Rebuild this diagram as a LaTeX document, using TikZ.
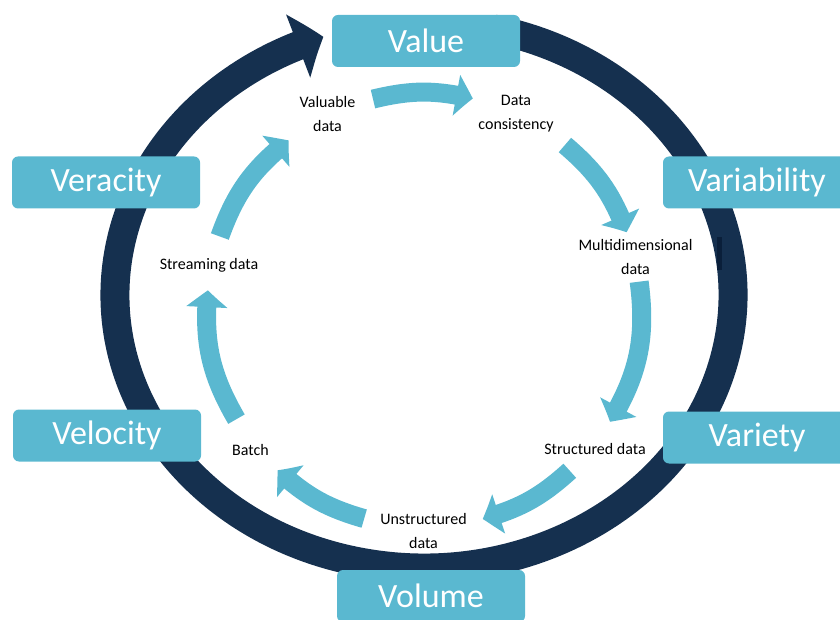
\documentclass[tikz,border=0pt]{standalone}
\usepackage{fontspec}
\setmainfont{Carlito}
\usetikzlibrary{arrows.meta,bending}
\definecolor{navy}{HTML}{15304F}
\definecolor{deepnavy}{HTML}{0A1F3A}
\definecolor{sky}{HTML}{5AB8D0}
\begin{document}
\begin{tikzpicture}[x=1pt,y=1pt,
  vbox/.style={fill=sky, rounded corners=6pt, minimum width=188pt,
    minimum height=52pt, inner sep=0pt, text=white,
    font=\fontsize{34}{40}\selectfont},
  lbl/.style={align=center, font=\fontsize{16}{24}\selectfont,
    text=black, inner sep=0pt},
  flow/.style={draw=sky, line width=19pt,
    -{Triangle[length=17pt,width=40pt,bend]}},
  ring/.style={draw=navy, line width=29pt,
    -{Triangle[length=27pt,width=66pt,bend]}}]
\clip (0,0) rectangle (840,619);
\useasboundingbox (0,0) rectangle (840,619);

% outer cycle
\draw[ring] (424,324) ++(77:309 and 273)
  arc[start angle=77, end angle=-251, x radius=309, y radius=273];
\fill[deepnavy] (717,349) rectangle (722,382);

% the six V boxes
\node[vbox] (value)       at (426,578)   {Value};
\node[vbox] (variability) at (757,436.5) {Variability};
\node[vbox] (veracity)    at (106,436.5) {Veracity};
\node[vbox] (velocity)    at (107,183.5) {Velocity};
\node[vbox] (variety)     at (757,181.5) {Variety};
\node[vbox] (volume)      at (431,23)    {Volume};

% inner data cycle labels
\node[lbl] (valuable) at (327.5,505) {Valuable\\data};
\node[lbl] (consist)  at (516,505)   {Data\\consistency};
\node[lbl] (multi)    at (635.5,362) {Multidimensional\\data};
\node[lbl] (struct)   at (595,170)   {Structured data};
\node[lbl] (unstruct) at (423.5,88)  {Unstructured\\data};
\node[lbl] (batch)    at (250.5,169) {Batch};
\node[lbl] (stream)   at (209,354)   {Streaming data};

% arrow end points on the inner circle
\begin{scope}[shift={(424,309)}]
  \coordinate (a1s) at (103.6:217); \coordinate (a1e) at (77:217);
  \coordinate (a2s) at (49.5:217);  \coordinate (a2e) at (21:217);
  \coordinate (a3s) at (7.5:217);   \coordinate (a3e) at (-31:217);
  \coordinate (a4s) at (-47.8:217); \coordinate (a4e) at (-74.3:217);
  \coordinate (a5s) at (-106:217);  \coordinate (a5e) at (-132.4:217);
  \coordinate (a6s) at (-149.8:217);\coordinate (a6e) at (-185.2:217);
  \coordinate (a7s) at (-199.8:217);\coordinate (a7e) at (-231.4:217);
\end{scope}

\draw[flow] (a1s) to[bend left=13.3]  (a1e);
\draw[flow] (a2s) to[bend left=14.25] (a2e);
\draw[flow] (a3s) to[bend left=19.25] (a3e);
\draw[flow] (a4s) to[bend left=13.25] (a4e);
\draw[flow] (a5s) to[bend left=13.2]  (a5e);
\draw[flow] (a6s) to[bend left=17.7]  (a6e);
\draw[flow] (a7s) to[bend left=15.8]  (a7e);
\end{tikzpicture}
\end{document}
